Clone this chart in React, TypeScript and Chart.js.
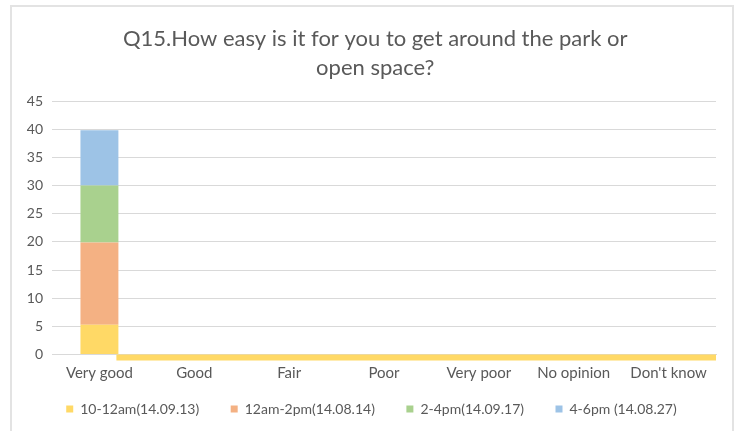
import React, { useEffect, useRef } from "react";
import { Chart, registerables } from "chart.js";

Chart.register(...registerables);

const categories = ["Very good", "Good", "Fair", "Poor", "Very poor", "No opinion", "Don't know"];
const seriesNames = ["10-12am(14.09.13)", "12am-2pm(14.08.14)", "2-4pm(14.09.17)", "4-6pm (14.08.27)"];
const s1 = [5.3, 0, 0, 0, 0, 0, 0];
const s2 = [14.6, 0, 0, 0, 0, 0, 0];
const s3 = [10.1, 0, 0, 0, 0, 0, 0];
const s4 = [9.8, 0, 0, 0, 0, 0, 0];
const colors = ["#FFD966", "#F4B183", "#A9D18E", "#9DC3E6"];
const yMax = 45;
const yStep = 5;
const titleLines = ["Q15.How easy is it for you to get around the park or", "open space?"];

const FONT = "Lato, 'Liberation Sans', sans-serif";
const LEGEND_GAP = "      ";
const LEGEND_TAIL = "       ";
const TITLE_LEAD = "    ";

const baseStripPlugin = {
  id: "baseStrip",
  afterDatasetsDraw(chart: any) {
    const meta = chart.getDatasetMeta(0);
    const el = meta.data[0];
    if (!el) return;
    const props = el.getProps(["x", "width"], true);
    const right = props.x + props.width / 2;
    const y0 = chart.scales.y.getPixelForValue(0);
    const ctx = chart.ctx;
    ctx.save();
    ctx.fillStyle = colors[0];
    ctx.fillRect(right - 2, y0, chart.chartArea.right - right + 2, 6);
    ctx.restore();
  },
};

export default function App() {
  const ref = useRef<HTMLCanvasElement | null>(null);
  useEffect(() => {
    if (!ref.current) return;
    const data = [s1, s2, s3, s4];
    const chart = new Chart(ref.current, {
      type: "bar",
      data: {
        labels: categories,
        datasets: seriesNames.map((n, i) => ({
          label: n,
          data: data[i],
          backgroundColor: colors[i],
          borderWidth: 0,
          categoryPercentage: 1,
          barPercentage: 0.4,
        })),
      },
      plugins: [baseStripPlugin],
      options: {
        animation: false,
        responsive: false,
        layout: { padding: { left: 0, right: 16, top: 8, bottom: 5 } },
        plugins: {
          title: {
            display: true,
            text: titleLines.map((t) => TITLE_LEAD + t),
            color: "#595959",
            font: { family: FONT, size: 22, weight: "normal" as any, lineHeight: 1.32 },
            padding: { top: 9, bottom: 19 },
          },
          legend: {
            position: "bottom",
            fullSize: false,
            labels: {
              boxWidth: 7,
              boxHeight: 7,
              color: "#595959",
              font: { family: FONT, size: 14 },
              padding: 10,
              generateLabels: (chart: any) => {
                const items = Chart.defaults.plugins.legend.labels.generateLabels(chart);
                return items.map((it: any, i: number) => ({
                  ...it,
                  text: i < items.length - 1 ? it.text + LEGEND_GAP : it.text + LEGEND_TAIL,
                }));
              },
            },
          },
          tooltip: { enabled: false },
        },
        scales: {
          x: {
            stacked: true,
            grid: { display: false, drawTicks: false },
            border: { display: true, color: "#d9d9d9", width: 1 },
            ticks: { color: "#595959", font: { family: FONT, size: 15 }, padding: 10, maxRotation: 0 },
            afterFit: (scale: any) => {
              scale.height = 37.5;
            },
          },
          y: {
            stacked: true,
            min: 0,
            max: yMax,
            ticks: { stepSize: yStep, color: "#595959", font: { family: FONT, size: 14 }, padding: 9 },
            grid: { color: "#d9d9d9", lineWidth: 1, drawTicks: false },
            border: { display: false },
            afterFit: (scale: any) => {
              scale.width = 40;
            },
          },
        },
      },
    });
    return () => chart.destroy();
  }, []);
  return (
    <div
      style={{
        position: "absolute",
        left: 10,
        top: 5,
        width: 724,
        height: 440,
        boxSizing: "border-box",
        border: "2px solid #e3e3e3",
        background: "#fff",
      }}
    >
      <canvas ref={ref} width={720} height={424} style={{ display: "block" }} />
    </div>
  );
}
